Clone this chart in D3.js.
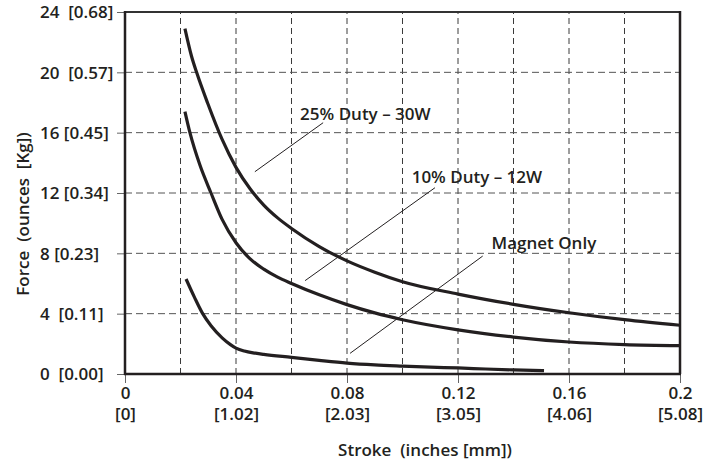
<!DOCTYPE html>
<html>
<head>
<meta charset="utf-8">
<script src="https://cdn.jsdelivr.net/npm/d3@7"></script>
<style>
  body { margin: 0; background: #fff; }
  text { font-family: "Open Sans", sans-serif; font-weight: 600; fill: #231f20; }
</style>
</head>
<body>
<script>
		// stroke in inches, force in ounces
		var stroke25 = [0.0216, 0.024, 0.0258, 0.0298, 0.035, 0.04, 0.045, 0.05, 0.055, 0.06, 0.07, 0.08, 0.09, 0.10, 0.12, 0.14, 0.16, 0.18, 0.20];
		var force25 = [22.9, 21.05, 20.0, 17.95, 15.55, 13.7, 12.3, 11.2, 10.35, 9.65, 8.45, 7.5, 6.75, 6.12, 5.3, 4.62, 4.06, 3.6, 3.23];

		var stroke10 = [0.0216, 0.0234, 0.027, 0.031, 0.035, 0.04, 0.045, 0.05, 0.055, 0.06, 0.07, 0.08, 0.09, 0.10, 0.12, 0.14, 0.16, 0.18, 0.20];
		var force10 = [17.4, 16, 13.85, 12, 10.25, 8.7, 7.65, 6.95, 6.42, 6.0, 5.25, 4.6, 4.05, 3.6, 2.93, 2.45, 2.12, 1.95, 1.88];

		var strokeMag = [0.022, 0.025, 0.028, 0.031, 0.035, 0.038, 0.040, 0.043, 0.047, 0.05, 0.06, 0.07, 0.08, 0.09, 0.10, 0.11, 0.12, 0.13, 0.14, 0.151];
		var forceMag = [6.3, 5.1, 4.0, 3.2, 2.4, 1.95, 1.72, 1.52, 1.38, 1.3, 1.1, 0.9, 0.72, 0.6, 0.52, 0.45, 0.4, 0.33, 0.27, 0.22];

		var xTicks = [0, 0.04, 0.08, 0.12, 0.16, 0.2];
		var xTickIn = ["0", "0.04", "0.08", "0.12", "0.16", "0.2"];
		var xTickMm = ["[0]", "[1.02]", "[2.03]", "[3.05]", "[4.06]", "[5.08]"];
		var xGrid = [0.02, 0.04, 0.06, 0.08, 0.10, 0.12, 0.14, 0.16, 0.18];

		var yTicks = [0, 4, 8, 12, 16, 20, 24];
		var yTickLabels = ["0  [0.00]", "4  [0.11]", "8 [0.23]", "12 [0.34]", "16 [0.45]", "20  [0.57]", "24  [0.68]"];
		var yGrid = [4, 8, 12, 16, 20];

		// annotation text and leader lines, in data units
		var labelNames = ["25% Duty \u2013 30W", "10% Duty \u2013 12W", "Magnet Only"];
		var labelAt = [[0.0631, 16.84], [0.1033, 12.69], [0.1321, 8.27]];
		var leaderFrom = [[0.0714, 16.66], [0.1117, 12.35], [0.1289, 7.82]];
		var leaderTo = [[0.0468, 13.41], [0.0649, 6.19], [0.0811, 1.37]];

		var width = 709,
			height = 462;

		var x = d3.scaleLinear().domain([0, 0.2]).range([125, 680]);
		var y = d3.scaleLinear().domain([0, 24]).range([374, 12]);

		var svg = d3.select("body").append("svg")
			.attr("width", width)
			.attr("height", height);

		// dashed grid
		svg.append("g").selectAll("line")
			.data(xGrid)
			.enter()
			.append("line")
			.attr("x1", function (d) { return x(d); })
			.attr("x2", function (d) { return x(d); })
			.attr("y1", y(0))
			.attr("y2", y(24))
			.style("stroke", "#3a3a3a")
			.style("stroke-width", 1)
			.style("stroke-dasharray", "6,4");

		svg.append("g").selectAll("line")
			.data(yGrid)
			.enter()
			.append("line")
			.attr("x1", x(0))
			.attr("x2", x(0.2))
			.attr("y1", function (d) { return y(d); })
			.attr("y2", function (d) { return y(d); })
			.style("stroke", "#555")
			.style("stroke-width", 1)
			.style("stroke-dasharray", "7,4");

		// axes
		var xAxis = svg.append("g")
			.attr("transform", "translate(0," + y(0) + ")")
			.call(d3.axisBottom(x).tickValues(xTicks).tickSize(9).tickPadding(4)
				.tickFormat(function (d, i) { return xTickIn[i]; }));
		xAxis.select(".domain").remove();
		xAxis.selectAll(".tick line").style("stroke", "#666");
		xAxis.selectAll(".tick text").attr("y", 25).attr("dy", 0).style("font-size", "17px");
		xAxis.selectAll(".tick").append("text")
			.attr("y", 46)
			.attr("text-anchor", "middle")
			.style("font-size", "17px")
			.text(function (d, i) { return xTickMm[i]; });

		var yAxis = svg.append("g")
			.attr("transform", "translate(" + x(0) + ",0)")
			.call(d3.axisLeft(y).tickValues(yTicks).tickSize(8)
				.tickFormat(function (d, i) { return yTickLabels[i]; }));
		yAxis.select(".domain").remove();
		yAxis.selectAll(".tick line").style("stroke", "#666");
		yAxis.selectAll(".tick text")
			.attr("x", -85)
			.attr("dy", "0.35em")
			.attr("text-anchor", "start")
			.style("white-space", "pre")
			.style("font-size", "17px");

		// frame
		svg.append("line").attr("x1", x(0)).attr("x2", x(0.2)).attr("y1", y(24)).attr("y2", y(24))
			.style("stroke", "#333").style("stroke-width", 2);
		svg.append("line").attr("x1", x(0.2)).attr("x2", x(0.2)).attr("y1", y(24) - 1).attr("y2", y(0))
			.style("stroke", "#231f20").style("stroke-width", 2.5);
		svg.append("line").attr("x1", x(0)).attr("x2", x(0)).attr("y1", y(24) - 1).attr("y2", y(0) + 1)
			.style("stroke", "#231f20").style("stroke-width", 2.5);
		svg.append("line").attr("x1", x(0) - 1).attr("x2", x(0.2) + 1).attr("y1", y(0)).attr("y2", y(0))
			.style("stroke", "#231f20").style("stroke-width", 2.5);

		// curves
		var series = [
			d3.zip(stroke25, force25),
			d3.zip(stroke10, force10),
			d3.zip(strokeMag, forceMag)
		];
		var line = d3.line()
			.x(function (d) { return x(d[0]); })
			.y(function (d) { return y(d[1]); })
			.curve(d3.curveMonotoneX);

		svg.append("g").selectAll("path")
			.data(series)
			.enter()
			.append("path")
			.attr("d", line)
			.style("fill", "none")
			.style("stroke", "#231f20")
			.style("stroke-width", 3.2);

		// leader lines + labels
		svg.append("g").selectAll("line")
			.data(labelNames)
			.enter()
			.append("line")
			.attr("x1", function (d, i) { return x(leaderFrom[i][0]); })
			.attr("y1", function (d, i) { return y(leaderFrom[i][1]); })
			.attr("x2", function (d, i) { return x(leaderTo[i][0]); })
			.attr("y2", function (d, i) { return y(leaderTo[i][1]); })
			.style("stroke", "#231f20")
			.style("stroke-width", 1);

		svg.append("g").selectAll("text")
			.data(labelNames)
			.enter()
			.append("text")
			.attr("x", function (d, i) { return x(labelAt[i][0]); })
			.attr("y", function (d, i) { return y(labelAt[i][1]); })
			.style("font-size", "17px")
			.text(function (d) { return d; });

		// axis titles
		svg.append("text")
			.attr("x", 425)
			.attr("y", 456)
			.attr("text-anchor", "middle")
			.style("font-size", "17px")
			.style("white-space", "pre")
			.text("Stroke  (inches [mm])");

		svg.append("text")
			.attr("transform", "translate(29,214) rotate(-90)")
			.attr("text-anchor", "middle")
			.style("font-size", "17px")
			.style("white-space", "pre")
			.text("Force  (ounces  [Kg])");
</script>
</body>
</html>
